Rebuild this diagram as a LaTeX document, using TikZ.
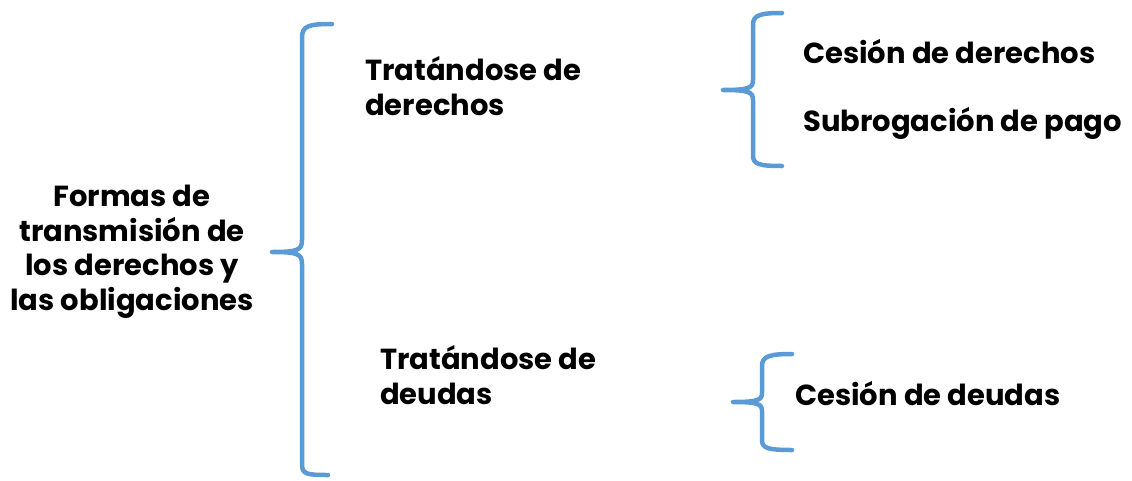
\documentclass[tikz,border=0pt]{standalone}
\usepackage{fontspec}
\setmainfont{Poppins}
\definecolor{braceblue}{RGB}{91,155,213}
\tikzset{
  brace/.style={draw=braceblue, line width=4.5pt, line cap=round, line join=round},
  lbl/.style={font=\fontsize{29}{34.5}\selectfont\bfseries, inner sep=0pt, text=black},
}
\begin{document}
\begin{tikzpicture}[x=1pt,y=-1pt]
\useasboundingbox (0,0) rectangle (1132,480);
% big brace
\draw[brace] (332,24) .. controls (308,24) and (302,26) .. (302,38) -- (302,240)
  .. controls (302,250) and (298,252) .. (272,252)
  .. controls (298,252) and (302,254) .. (302,264) -- (302,464)
  .. controls (302,474) and (306,475) .. (328,475);
% upper brace
\draw[brace] (782,13) .. controls (760,13) and (753,15) .. (753,25) -- (753,80)
  .. controls (753,88) and (749,90) .. (723,90)
  .. controls (749,90) and (753,92) .. (753,100) -- (753,155)
  .. controls (753,164) and (758,166) .. (782,166);
% lower brace
\draw[brace] (792,354) .. controls (770,354) and (762,356) .. (762,366) -- (762,393)
  .. controls (762,400) and (758,402) .. (733,402)
  .. controls (758,402) and (762,404) .. (762,411) -- (762,440)
  .. controls (762,448) and (767,450) .. (792,450);
\node[lbl, align=center, anchor=base] (root) at (132,310) {Formas de\\transmisión de\\los derechos y\\las obligaciones};
\node[lbl, align=left, anchor=base west] (der) at (365,115) {Tratándose de\\derechos};
\node[lbl, align=left, anchor=base west] (deu) at (380,404) {Tratándose de\\deudas};
\node[lbl, anchor=base west] (ces) at (803,63) {Cesión de derechos};
\node[lbl, anchor=base west] (sub) at (803,131) {Subrogación de pago};
\node[lbl, anchor=base west] (cdeu) at (795,405) {Cesión de deudas};
\end{tikzpicture}
\end{document}
